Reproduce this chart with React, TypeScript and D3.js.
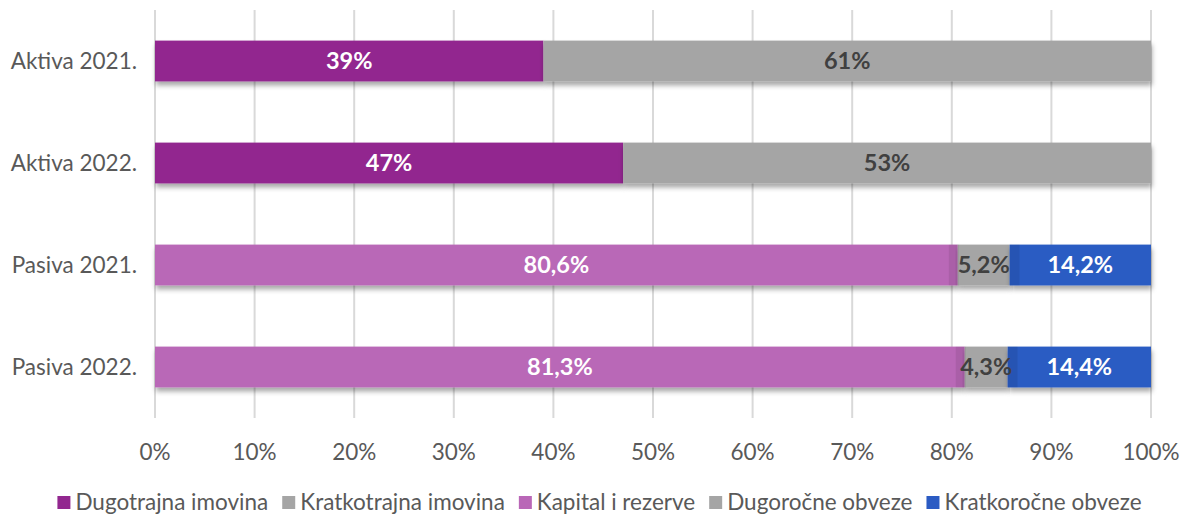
import React, { useEffect, useRef } from "react";
import * as d3 from "d3";

const categories = ["Aktiva 2021.", "Aktiva 2022.", "Pasiva 2021.", "Pasiva 2022."];
const seriesNames = ["Dugotrajna imovina", "Kratkotrajna imovina", "Kapital i rezerve", "Dugoročne obveze", "Kratkoročne obveze"];
const seriesColors = ["#92278F", "#A5A5A5", "#B967B7", "#A5A5A5", "#2B5BC3"];
const labelColors = ["#FFFFFF", "#404040", "#FFFFFF", "#404040", "#FFFFFF"];
const dugotrajna = [39, 47, 0, 0];
const kratkotrajna = [61, 53, 0, 0];
const kapital = [0, 0, 80.6, 81.3];
const dugorocne = [0, 0, 5.2, 4.3];
const kratkorocne = [0, 0, 14.2, 14.4];
const labels = [
  ["39%", "47%", "", ""],
  ["61%", "53%", "", ""],
  ["", "", "80,6%", "81,3%"],
  ["", "", "5,2%", "4,3%"],
  ["", "", "14,2%", "14,4%"],
];
const ticks = [0, 10, 20, 30, 40, 50, 60, 70, 80, 90, 100];

const W = 1184;
const H = 515;
const FONT = "Lato, 'Open Sans', sans-serif";
const FS = 22.5;

export default function App() {
  const ref = useRef<SVGSVGElement | null>(null);

  useEffect(() => {
    const svg = d3.select(ref.current);
    svg.selectAll("*").remove();

    const left = 155, right = 1151, top = 10, bottom = 418;
    const x = d3.scaleLinear().domain([0, 100]).range([left, right]);
    const y = d3.scaleBand().domain(categories).range([top, bottom]).paddingInner(0.6).paddingOuter(0.3);

    const defs = svg.append("defs");
    const f = defs.append("filter").attr("id", "sh").attr("x", "-5%").attr("y", "-30%").attr("width", "110%").attr("height", "170%");
    f.append("feDropShadow").attr("dx", 1).attr("dy", 4).attr("stdDeviation", 2.5).attr("flood-color", "#000").attr("flood-opacity", 0.35);

    svg.append("g").selectAll("line").data(ticks).join("line")
      .attr("x1", (d) => x(d)).attr("x2", (d) => x(d))
      .attr("y1", top).attr("y2", bottom)
      .attr("stroke", "#D9D9D9").attr("stroke-width", 2);

    const values = [dugotrajna, kratkotrajna, kapital, dugorocne, kratkorocne];
    const rows = categories.map((c, i) => {
      let acc = 0;
      return values.map((v, s) => {
        const x0 = acc;
        acc += v[i];
        return { cat: c, s, x0, x1: acc, label: labels[s][i] };
      }).filter((d) => d.x1 > d.x0);
    });

    const segs = rows.flat();
    const g = svg.append("g");
    g.selectAll("rect.seg").data(segs).join("rect")
      .attr("class", "seg")
      .attr("x", (d) => x(d.x0)).attr("width", (d) => x(d.x1) - x(d.x0))
      .attr("y", (d) => y(d.cat)!).attr("height", y.bandwidth())
      .attr("fill", (d) => seriesColors[d.s])
      .attr("filter", "url(#sh)");

    const joins = segs.filter((d) => d.s >= 3);
    g.selectAll("rect.strip").data(joins).join("rect")
      .attr("x", (d) => (d.s === 3 ? x(d.x0) - 9 : x(d.x0)))
      .attr("width", 10)
      .attr("y", (d) => y(d.cat)!).attr("height", y.bandwidth())
      .attr("fill", "#000").attr("opacity", 0.08);

    g.selectAll("text.lab").data(segs).join("text")
      .attr("x", (d) => (x(d.x0) + x(d.x1)) / 2)
      .attr("y", (d) => y(d.cat)! + y.bandwidth() / 2)
      .attr("dy", "0.36em")
      .attr("text-anchor", "middle")
      .attr("font-family", FONT).attr("font-weight", 700).attr("font-size", 23.5)
      .attr("fill", (d) => labelColors[d.s])
      .text((d) => d.label);

    svg.append("g").selectAll("text").data(categories).join("text")
      .attr("x", 137).attr("y", (d) => y(d)! + y.bandwidth() / 2)
      .attr("dy", "0.36em").attr("text-anchor", "end")
      .attr("font-family", FONT).attr("font-size", FS).attr("fill", "#595959")
      .text((d) => d);

    svg.append("g").selectAll("text").data(ticks).join("text")
      .attr("x", (d) => x(d)).attr("y", 452).attr("dy", "0.36em")
      .attr("text-anchor", "middle")
      .attr("font-family", FONT).attr("font-size", FS).attr("fill", "#595959")
      .text((d) => `${d}%`);

    const lg = svg.append("g");
    const items = seriesNames.map((n, i) => {
      const it = lg.append("g");
      it.append("rect").attr("width", 13).attr("height", 13).attr("y", -6).attr("fill", seriesColors[i]);
      const t = it.append("text").attr("x", 18).attr("dy", "0.36em")
        .attr("font-family", FONT).attr("font-size", FS).attr("fill", "#595959").text(n);
      const w = 18 + (t.node() as SVGTextElement).getComputedTextLength();
      return { it, w };
    });
    const gap = 14;
    const total = d3.sum(items, (d) => d.w) + gap * (items.length - 1);
    let cx = (58 + 1141) / 2 - total / 2;
    items.forEach(({ it, w }) => {
      it.attr("transform", `translate(${cx},502)`);
      cx += w + gap;
    });
  }, []);

  return <svg ref={ref} width={W} height={H} style={{ display: "block", position: "absolute", left: 0, top: 0 }} />;
}
